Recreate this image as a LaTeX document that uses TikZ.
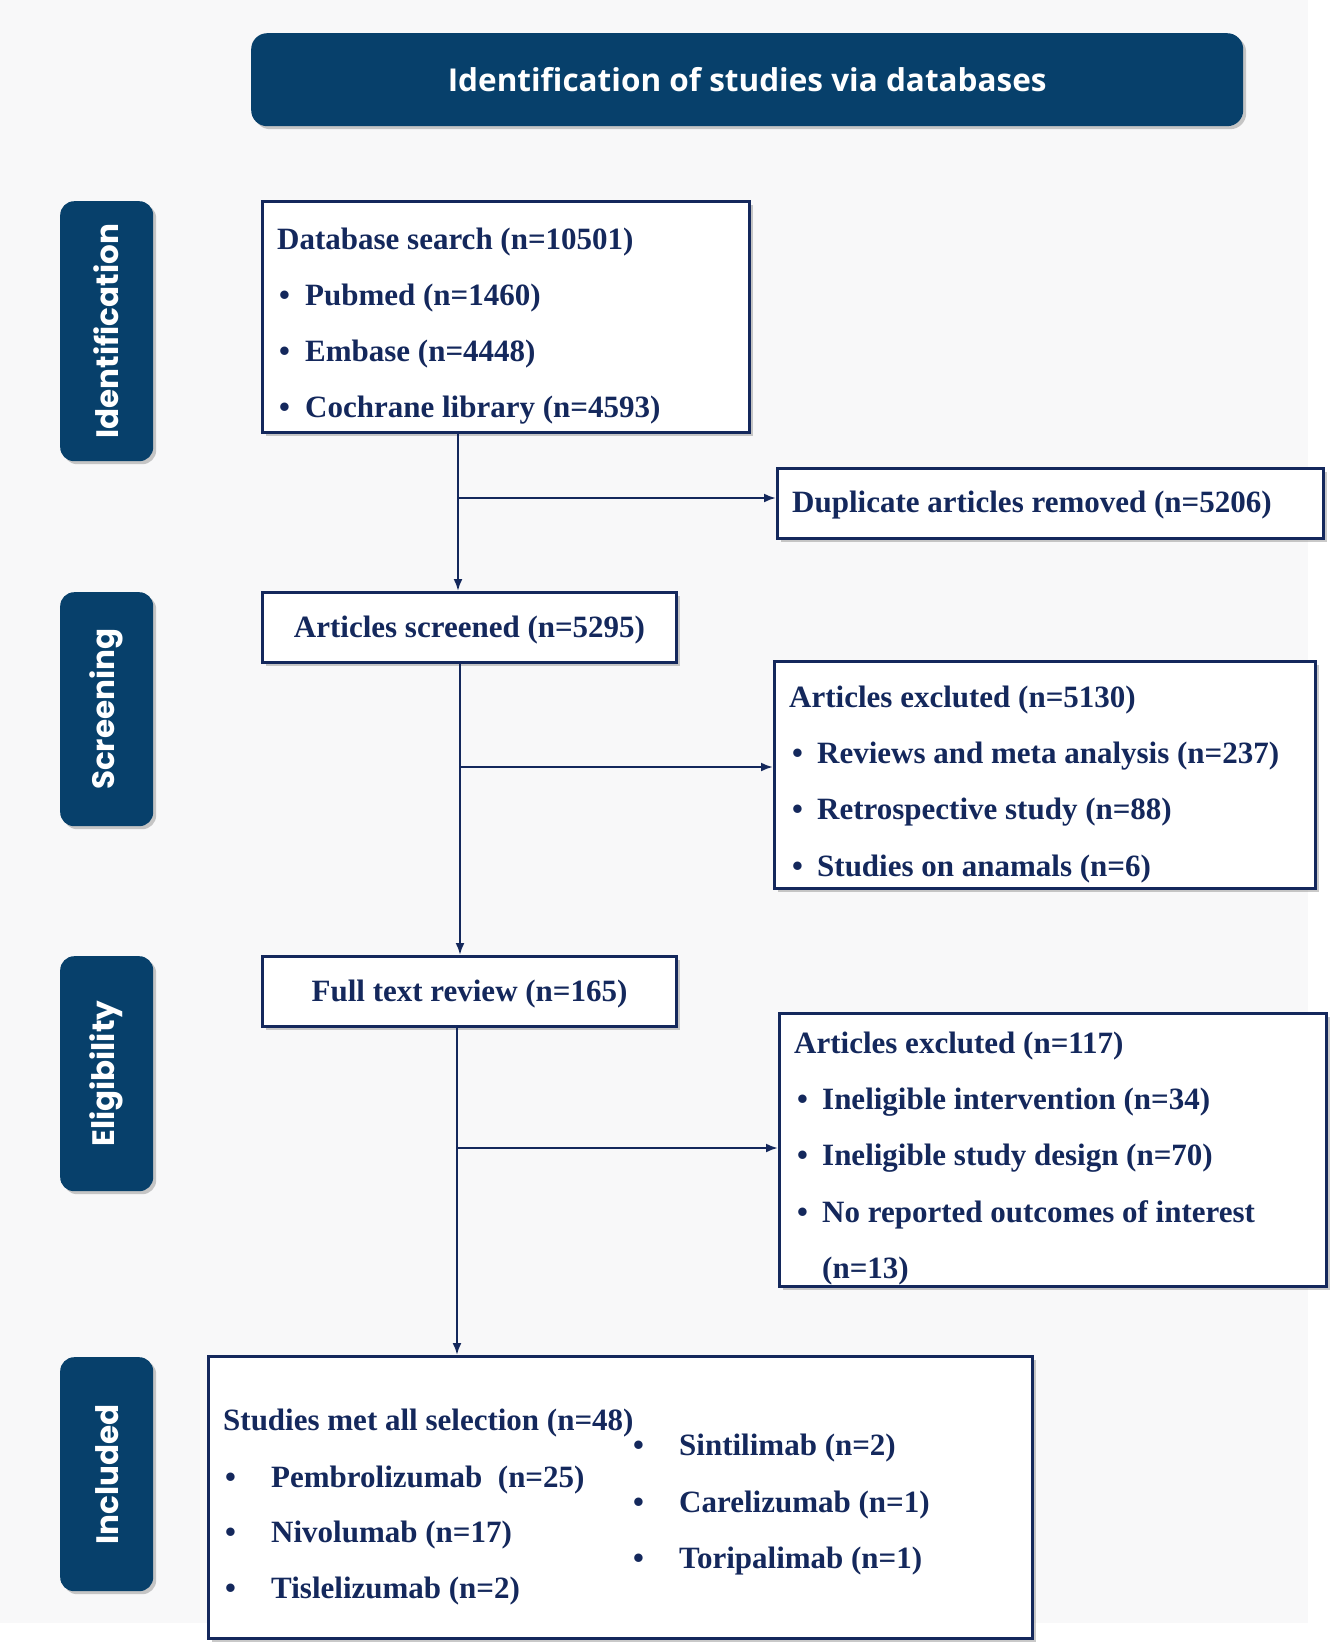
\documentclass[tikz,border=0pt]{standalone}
\usepackage{fontspec}
\setmainfont{Liberation Serif}
\newfontfamily\titlefont{Open Sans}
\newfontfamily\sidefont{Poppins}
\usetikzlibrary{shadows,arrows.meta}
\definecolor{navy}{HTML}{14285C}
\definecolor{sideblue}{HTML}{07406B}
\definecolor{bggrey}{HTML}{F8F8F9}
\tikzset{
  box/.style={draw=navy, line width=3pt, fill=white, inner sep=0pt, anchor=north west,
    drop shadow={shadow xshift=3pt, shadow yshift=-3pt, opacity=0.35, fill=black!60}},
  sidebox/.style={fill=sideblue, rounded corners=14pt, inner sep=0pt, anchor=north west,
    drop shadow={shadow xshift=3pt, shadow yshift=-3pt, opacity=0.35, fill=black!60}},
  sidetxt/.style={text=white, font=\sidefont\bfseries\fontsize{31}{36}\selectfont, rotate=90, inner sep=0pt},
  txt/.style={text=navy, font=\fontsize{31}{37}\selectfont\bfseries, anchor=west, inner sep=0pt,
    text height=21.5pt, text depth=7pt, yshift=-3pt},
  arr/.style={draw=navy, line width=2.2pt, -{Latex[length=12pt,width=9pt]}},
}
\newcommand{\bul}[1]{\makebox[#1][l]{\textbullet}}
\begin{document}
\begin{tikzpicture}[x=1pt,y=-1pt]
\useasboundingbox (0,0) rectangle (1337,1650);
\fill[white] (0,0) rectangle (1337,1650);
\fill[bggrey] (0,0) rectangle (1308,1623);

% title
\node[sidebox, minimum width=992pt, minimum height=93pt, rounded corners=16pt] (title) at (251,33) {};
\node[text=white, font=\titlefont\bfseries\fontsize{31.5}{36}\selectfont, inner sep=0pt] (titletxt) at (title.center) {Identification of studies via databases};

% side labels
\node[sidebox, minimum width=93pt, minimum height=260pt] (s1) at (60,201) {};
\node[sidetxt] (s1t) at (s1.center) {Identification};
\node[sidebox, minimum width=93pt, minimum height=234pt] (s2) at (60,592) {};
\node[sidetxt] (s2t) at (s2.center) {Screening};
\node[sidebox, minimum width=93pt, minimum height=235pt] (s3) at (60,956) {};
\node[sidetxt] (s3t) at (s3.center) {Eligibility};
\node[sidebox, minimum width=93pt, minimum height=234pt] (s4) at (60,1357) {};
\node[sidetxt] (s4t) at (s4.center) {Included};

% boxes
\node[box, minimum width=487pt, minimum height=231pt] (db) at (261,200) {};
\node[txt] (db1) at (277,239) {Database search (n=10501)};
\node[txt] (db2) at (279,295) {\bul{26pt}Pubmed (n=1460)};
\node[txt] (db3) at (279,351) {\bul{26pt}Embase (n=4448)};
\node[txt] (db4) at (279,407) {\bul{26pt}Cochrane library (n=4593)};

\node[box, minimum width=546pt, minimum height=70pt] (dup) at (776,467) {};
\node[txt] (dupt) at (792,502) {Duplicate articles removed (n=5206)};

\node[box, minimum width=414pt, minimum height=70pt] (scr) at (261,591) {};
\node[txt, anchor=center] (scrt) at (scr.center) {Articles screened (n=5295)};

\node[box, minimum width=541pt, minimum height=227pt] (ex1) at (773,660) {};
\node[txt] (ex1a) at (789,697) {Articles excluted (n=5130)};
\node[txt] (ex1b) at (792,753) {\bul{25pt}Reviews and meta analysis (n=237)};
\node[txt] (ex1c) at (792,809) {\bul{25pt}Retrospective study (n=88)};
\node[txt] (ex1d) at (792,866) {\bul{25pt}Studies on anamals (n=6)};

\node[box, minimum width=414pt, minimum height=70pt] (ft) at (261,955) {};
\node[txt, anchor=center] (ftt) at (ft.center) {Full text review (n=165)};

\node[box, minimum width=547pt, minimum height=273pt] (ex2) at (778,1012) {};
\node[txt] (ex2a) at (794,1043) {Articles excluted (n=117)};
\node[txt] (ex2b) at (797,1099) {\bul{25pt}Ineligible intervention (n=34)};
\node[txt] (ex2c) at (797,1155) {\bul{25pt}Ineligible study design (n=70)};
\node[txt] (ex2d) at (797,1212) {\bul{25pt}No reported outcomes of interest};
\node[txt] (ex2e) at (822,1268) {(n=13)};

\node[box, minimum width=824pt, minimum height=282pt] (inc) at (207,1355) {};
\node[txt] (inca) at (223,1420) {Studies met all selection (n=48)};
\node[txt] (incb) at (225,1477) {\bul{46pt}Pembrolizumab\ \ (n=25)};
\node[txt] (incc) at (225,1532) {\bul{46pt}Nivolumab (n=17)};
\node[txt] (incd) at (225,1588) {\bul{46pt}Tislelizumab (n=2)};
\node[txt] (ince) at (633,1445) {\bul{46pt}Sintilimab (n=2)};
\node[txt] (incf) at (633,1502) {\bul{46pt}Carelizumab (n=1)};
\node[txt] (incg) at (633,1558) {\bul{46pt}Toripalimab (n=1)};

% connectors
\coordinate (x1) at (458,0);
\coordinate (x2) at (460,0);
\coordinate (x3) at (457,0);
\coordinate (b1) at (458,498);
\coordinate (b2) at (460,767);
\coordinate (b3) at (457,1148);
\draw[arr] (db.south -| x1) -- (scr.north -| x1);
\draw[arr] (b1) -- (b1 -| dup.west);
\draw[arr] (scr.south -| x2) -- (ft.north -| x2);
\draw[arr] (b2) -- (b2 -| ex1.west);
\draw[arr] (ft.south -| x3) -- (inc.north -| x3);
\draw[arr] (b3) -- (b3 -| ex2.west);
\end{tikzpicture}
\end{document}
